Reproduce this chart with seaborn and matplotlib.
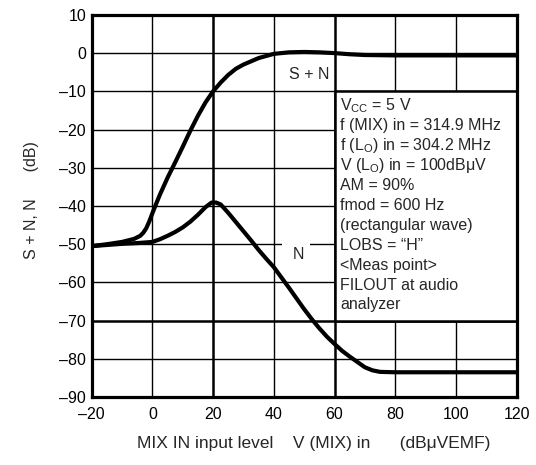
import matplotlib
matplotlib.use("Agg")
import matplotlib.pyplot as plt
import seaborn as sns
import pandas as pd
from matplotlib.patches import Rectangle

# ---- data ----
sn_x = [-20, -15, -10, -6, -4, -3, -2, -1, 0, 1, 2.5, 5, 7.5, 10, 12.5, 15, 17.5, 20,
        22.5, 25, 27.5, 30, 35, 40, 45, 50, 55, 60, 65, 70, 80, 90, 100, 110, 120]
sn_y = [-50.5, -50.0, -49.4, -48.6, -47.8, -47.0, -45.8, -44.0, -41.9, -39.9, -37.0,
        -32.6, -28.6, -24.5, -20.3, -16.4, -12.9, -10.0, -7.7, -5.7, -4.1, -3.0, -1.3,
        -0.2, 0.2, 0.3, 0.2, 0.0, -0.3, -0.5, -0.6, -0.6, -0.6, -0.6, -0.6]

n_x = [-20, -15, -10, -5, 0, 2.5, 5, 7.5, 10, 12.5, 15, 17.5, 19.5, 21, 22.5, 25,
       27.5, 30, 32.5, 35, 37.5, 40, 42.5, 45, 47.5, 50, 52.5, 55, 57.5, 60, 62.5,
       65, 67.5, 70, 72.5, 75, 80, 90, 100, 110, 120]
n_y = [-50.5, -50.2, -49.9, -49.7, -49.4, -48.7, -47.8, -46.8, -45.6, -44.1, -42.3,
       -40.3, -39.1, -39.1, -39.6, -41.8, -44.2, -46.6, -49.0, -51.5, -53.8, -56.0,
       -58.7, -61.4, -64.2, -67.0, -69.6, -72.0, -74.2, -76.1, -77.9, -79.4, -80.8,
       -82.2, -83.0, -83.4, -83.5, -83.5, -83.5, -83.5, -83.5]

x_ticks = [-20, 0, 20, 40, 60, 80, 100, 120]
x_tick_labels = ["\u201320", "0", "20", "40", "60", "80", "100", "120"]
y_ticks = [-90, -80, -70, -60, -50, -40, -30, -20, -10, 0, 10]
y_tick_labels = ["\u201390", "\u201380", "\u201370", "\u201360", "\u201350", "\u201340",
                 "\u201330", "\u201320", "\u201310", "0", "10"]

x_label = "MIX IN input level    V (MIX) in      (dB\u03bcVEMF)"
y_label = "S + N, N      (dB)"
label_sn = "S + N"
label_n = "N"
cond_lines = [
    r"V$_{\mathrm{CC}}$ = 5 V",
    "f (MIX) in = 314.9 MHz",
    r"f (L$_{\mathrm{O}}$) in = 304.2 MHz",
    r"V (L$_{\mathrm{O}}$) in = 100dB$\mathrm{\mu}$V",
    "AM = 90%",
    "fmod = 600 Hz",
    "(rectangular wave)",
    "LOBS = \u201cH\u201d",
    "<Meas point>",
    "FILOUT at audio",
    "analyzer",
]

df = pd.concat([
    pd.DataFrame({"x": sn_x, "y": sn_y, "series": "S+N"}),
    pd.DataFrame({"x": n_x, "y": n_y, "series": "N"}),
])

# ---- style ----
sns.set_style("white")
plt.rcParams["font.family"] = ["Liberation Sans", "DejaVu Sans"]
plt.rcParams["mathtext.fontset"] = "custom"
plt.rcParams["mathtext.rm"] = "Liberation Sans"
plt.rcParams["mathtext.it"] = "Liberation Sans:italic"
plt.rcParams["mathtext.bf"] = "Liberation Sans:bold"

fig = plt.figure(figsize=(5.36, 4.65), dpi=100)
ax = fig.add_axes([0.171, 0.146, 0.793, 0.822])

sns.lineplot(data=df, x="x", y="y", hue="series", units="series", estimator=None,
             sort=False, palette={"S+N": "black", "N": "black"}, legend=False,
             lw=3.0, ax=ax, zorder=3)

ax.set_xlim(-20, 120)
ax.set_ylim(-90, 10)
ax.set_xticks(x_ticks)
ax.set_xticklabels(x_tick_labels)
ax.set_yticks(y_ticks)
ax.set_yticklabels(y_tick_labels)
ax.tick_params(axis="both", length=0, labelsize=11.5, colors="black")
ax.tick_params(axis="x", pad=7)
ax.tick_params(axis="y", pad=4)

ax.set_axisbelow(True)
ax.grid(True, color="black", lw=1.0)
for val, gl in zip(x_ticks, ax.xaxis.get_gridlines()):
    if val in (20, 60):
        gl.set_linewidth(1.8)
for val, gl in zip(y_ticks, ax.yaxis.get_gridlines()):
    if val == -70:
        gl.set_linewidth(1.8)

for sp in ax.spines.values():
    sp.set_visible(True)
    sp.set_color("black")
    sp.set_linewidth(2.3)

ax.set_xlabel(x_label, fontsize=12.5)
ax.xaxis.set_label_coords(0.523, -0.103)
ax.set_ylabel(y_label, fontsize=11.5)
ax.yaxis.set_label_coords(-0.125, 0.516)

# gap in gridline behind "N" label
ax.add_patch(Rectangle((42.6, -51.5), 9.3, 3.0, facecolor="white", edgecolor="none", zorder=1))

# condition box
ax.add_patch(Rectangle((60, -70), 60, 60, facecolor="white", edgecolor="black", lw=1.8, zorder=2))
for i, line in enumerate(cond_lines):
    ax.text(61.9, -13.7 - i * 5.22, line, fontsize=11.5, ha="left", va="center", zorder=4)

ax.text(51.5, -5.6, label_sn, fontsize=11.5, ha="center", va="center", zorder=4)
ax.text(48.1, -52.8, label_n, fontsize=11.5, ha="center", va="center", zorder=4)

fig.savefig("out.png", dpi=100, facecolor="white")
